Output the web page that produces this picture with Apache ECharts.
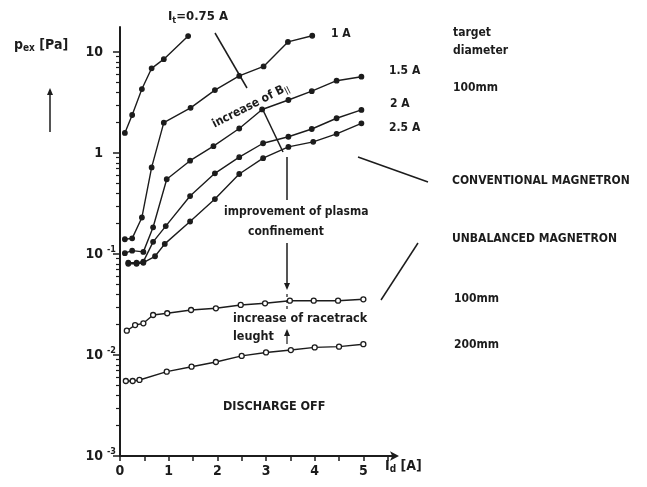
<!DOCTYPE html>
<html><head><meta charset="utf-8">
<script src="https://cdn.jsdelivr.net/npm/echarts@6/dist/echarts.min.js"></script>
<style>html,body{margin:0;padding:0;background:#fff}#c{width:647px;height:487px}</style>
</head><body><div id="c"></div>
<script>
// ---- data ----
const x075 = [0.1, 0.25, 0.45, 0.65, 0.9, 1.4];
const p075 = [1.58, 2.38, 4.3, 6.9, 8.5, 14.4];
const x1 = [0.1, 0.25, 0.45, 0.65, 0.9, 1.45, 1.95, 2.45, 2.95, 3.45, 3.95];
const p1 = [0.14, 0.143, 0.23, 0.72, 2.0, 2.8, 4.2, 5.8, 7.2, 12.6, 14.5];
const x15 = [0.1, 0.25, 0.48, 0.68, 0.96, 1.44, 1.92, 2.45, 2.92, 3.46, 3.94, 4.45, 4.96];
const p15 = [0.102, 0.108, 0.105, 0.184, 0.55, 0.84, 1.17, 1.75, 2.7, 3.35, 4.1, 5.2, 5.7];
const x2 = [0.17, 0.34, 0.48, 0.68, 0.94, 1.44, 1.95, 2.45, 2.94, 3.46, 3.94, 4.45, 4.96];
const p2 = [0.082, 0.082, 0.084, 0.132, 0.189, 0.375, 0.63, 0.91, 1.25, 1.45, 1.73, 2.21, 2.67];
const x25 = [0.17, 0.34, 0.48, 0.72, 0.92, 1.44, 1.95, 2.45, 2.94, 3.46, 3.97, 4.45, 4.96];
const p25 = [0.08, 0.08, 0.082, 0.095, 0.126, 0.21, 0.35, 0.62, 0.89, 1.15, 1.29, 1.55, 1.97];
const xU100 = [0.14, 0.31, 0.48, 0.68, 0.97, 1.46, 1.97, 2.48, 2.98, 3.49, 3.98, 4.48, 5.0];
const pU100 = [0.0174, 0.0198, 0.0206, 0.0249, 0.0259, 0.0279, 0.029, 0.0313, 0.0325, 0.0345, 0.0345, 0.0345, 0.0356];
const xU200 = [0.12, 0.26, 0.4, 0.96, 1.47, 1.97, 2.5, 3.0, 3.51, 4.0, 4.5, 5.0];
const pU200 = [0.00553, 0.00553, 0.00566, 0.00684, 0.00766, 0.00853, 0.0098, 0.0106, 0.0112, 0.0119, 0.0121, 0.0128];
const xTicks = [0, 0.5, 1, 1.5, 2, 2.5, 3, 3.5, 4, 4.5, 5, 5.5];
const xLabels = [0, 1, 2, 3, 4, 5];
const yMajor = [0.001, 0.01, 0.1, 1, 10];
const yExp = {0.001: '-3', 0.01: '-2', 0.1: '-1'};
const yMinor = [];
[0.001, 0.01, 0.1, 1, 10].forEach(d => { for (let k = 2; k <= 9; k++) { const v = +(d * k).toPrecision(3); if (v <= 17.7) yMinor.push(v); } });

const INK = '#1c1c1c';
const FONT = '"DejaVu Sans Condensed", "Liberation Sans Narrow", sans-serif';
const zip = (xs, ys) => xs.map((x, i) => [x, ys[i]]);

function curve(xs, ys, open) {
  return {
    type: 'line', data: zip(xs, ys), xAxisIndex: 0, yAxisIndex: 0,
    symbol: 'circle', symbolSize: open ? 5 : 4.5, showSymbol: true,
    lineStyle: {color: INK, width: 1.4},
    itemStyle: {color: open ? '#fff' : INK, borderColor: INK, borderWidth: 1.3},
    animation: false, silent: true
  };
}

function txt(x, y, text, size, extra) {
  return {
    type: 'text', x: x, y: y, silent: true,
    style: Object.assign({text: text, fill: INK, font: 'bold ' + size + 'px ' + FONT, textVerticalAlign: 'middle'}, extra || {})
  };
}
function sub(x, y, a, s, b, size) {
  return txt(x, y, '{a|' + a + '}{s|' + s + '}{a|' + b + '}', size, {rich: {
    a: {font: 'bold ' + size + 'px ' + FONT, fill: INK},
    s: {font: 'bold ' + Math.round(size * 0.7) + 'px ' + FONT, fill: INK, padding: [Math.round(size * 0.5), 0, 0, 0]}
  }});
}
function seg(pts, opts) {
  return {type: 'polyline', silent: true, shape: {points: pts}, style: Object.assign({stroke: INK, lineWidth: 1.5, fill: null}, opts || {})};
}
function head(x, y, dir) { // arrowhead pointing up (dir=-1) or down (dir=1)
  return {type: 'polygon', silent: true, shape: {points: [[x - 3, y - 7 * dir], [x + 3, y - 7 * dir], [x, y]]}, style: {fill: INK}};
}

const chart = echarts.init(document.getElementById('c'), null, {renderer: 'canvas'});
chart.setOption({
  animation: false,
  backgroundColor: '#fff',
  grid: {left: 120, top: 27, width: 275, bottom: 31},
  xAxis: {
    type: 'value', min: 0, max: 5.65,
    axisLine: {show: true, lineStyle: {color: INK, width: 2}, symbol: ['none', 'arrow'], symbolSize: [7, 9], symbolOffset: [0, 4]},
    axisTick: {show: true, customValues: xTicks, length: 5, lineStyle: {color: INK, width: 1.5}},
    axisLabel: {customValues: xLabels, color: INK, fontFamily: FONT, fontWeight: 'bold', fontSize: 14, margin: 8},
    splitLine: {show: false}
  },
  yAxis: [{
    type: 'log', logBase: 10, min: 0.001, max: 17.7, position: 'left',
    axisLine: {show: true, lineStyle: {color: INK, width: 2}},
    axisTick: {show: true, customValues: yMajor, length: 7, lineStyle: {color: INK, width: 1.5}},
    axisLabel: {
      customValues: yMajor, margin: 4, color: INK,
      formatter: v => { const e = yExp[+v.toPrecision(3)]; if (e) return '{b|10}{s|' + e + '}'; return '{b|' + (v >= 5 ? '10' : '1') + '}{s|\u00a0}'; },
      rich: {
        b: {fontFamily: FONT, fontWeight: 'bold', fontSize: 14, color: INK},
        s: {fontFamily: FONT, fontWeight: 'bold', fontSize: 9, color: INK, width: 12, verticalAlign: 'top', padding: [0, 0, 8, 1]}
      }
    },
    splitLine: {show: false}
  }, {
    type: 'log', logBase: 10, min: 0.001, max: 17.7, position: 'left',
    axisLine: {show: false},
    axisTick: {show: true, customValues: yMinor, length: 4, lineStyle: {color: INK, width: 1.2}},
    axisLabel: {show: false},
    splitLine: {show: false}
  }],
  series: [
    curve(x075, p075),
    curve(x1, p1),
    curve(x15, p15),
    curve(x2, p2),
    curve(x25, p25),
    curve(xU100, pU100, true),
    curve(xU200, pU200, true)
  ],
  graphic: [
    // y-axis title
    sub(14, 45, 'p', 'ex', ' [Pa]', 14),
    seg([[50, 132], [50, 92]]),
    head(50, 88, -1),
    // x-axis title
    sub(385, 466, 'I', 'd', ' [A]', 14),
    // curve labels
    sub(168, 17, 'I', 't', '=0.75 A', 13),
    txt(331, 34, '1 A', 12),
    txt(389, 71, '1.5 A', 12),
    txt(390, 104, '2 A', 12),
    txt(389, 128, '2.5 A', 12),
    txt(453, 33, 'target', 12),
    txt(453, 51, 'diameter', 12),
    txt(453, 88, '100mm', 12),
    txt(452, 181, 'CONVENTIONAL MAGNETRON', 12),
    seg([[358, 157], [428, 182]]),
    txt(452, 239, 'UNBALANCED MAGNETRON', 12),
    seg([[381, 300], [418, 243]]),
    txt(454, 299, '100mm', 12),
    txt(454, 345, '200mm', 12),
    // annotation arrows
    seg([[215, 33], [247, 88]]),
    {type: 'text', silent: true, x: 213, y: 125, rotation: 27 * Math.PI / 180,
      style: {text: '{a|increase of B}{s|||}', fill: INK, textVerticalAlign: 'middle',
        rich: {a: {font: 'bold 12px ' + FONT, fill: INK}, s: {font: 'bold 8px ' + FONT, fill: INK, padding: [6, 0, 0, 0]}}}},
    seg([[262, 108], [283, 152]]),
    seg([[287, 157], [287, 200]]),
    txt(224, 212, 'improvement of plasma', 12),
    txt(248, 232, 'confinement', 12),
    seg([[287, 243], [287, 283]]),
    head(287, 290, 1),
    seg([[287, 294], [287, 310]], {lineDash: [3, 3], lineWidth: 1.2}),
    txt(233, 319, 'increase of racetrack', 12.5),
    txt(233, 337, 'leught', 12.5),
    seg([[287, 332], [287, 344]], {lineWidth: 1.2}),
    head(287, 329, -1),
    txt(223, 407, 'DISCHARGE OFF', 12.5)
  ]
});
</script></body></html>
